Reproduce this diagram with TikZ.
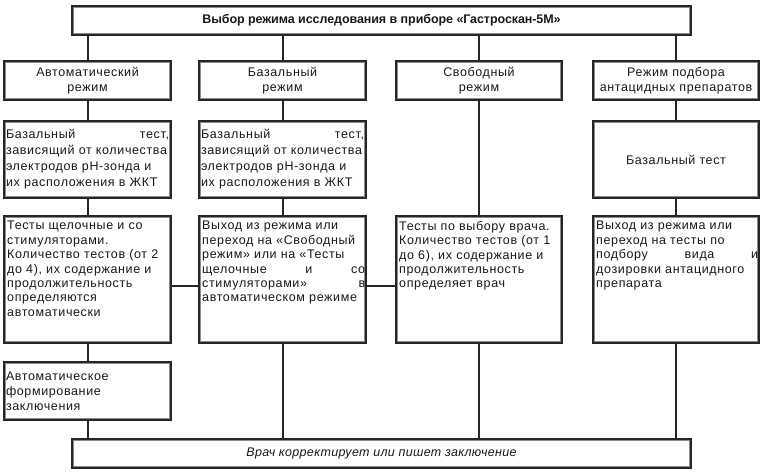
\documentclass[tikz,border=0pt]{standalone}
\usepackage{fontspec}
\setmainfont{Liberation Sans}[LetterSpace=5]
\newfontfamily\titlefont{Liberation Sans}[LetterSpace=-0.6]
\newfontfamily\botfont{Liberation Sans}[LetterSpace=2.5]
\newcommand\fsA{\fontsize{12.5}{15.5}\selectfont}
\newcommand\fsB{\fontsize{12.5}{16}\selectfont}
\newcommand\fsC{\fontsize{12.5}{14.4}\selectfont}
\newcommand\fsD{\fontsize{12.5}{15}\selectfont}
\begin{document}
\begin{tikzpicture}[x=1pt,y=-1pt,
  lw/.style={line width=2.2pt, draw=black!85},
  plain/.style={lw, fill=white, inner sep=0pt, align=center, text=black!90},
  dbl/.style={plain, path picture={\draw[black!45, line width=1pt] ([shift={(1.6pt,1.6pt)}]path picture bounding box.south west) rectangle ([shift={(-1.6pt,-1.6pt)}]path picture bounding box.north east);}},
  conn/.style={line width=2pt, draw=black!85},
  txt/.style={inner sep=0pt, anchor=north west, align=left, text width=163pt, font=\fsC, text=black!90},
  colA/.style={minimum width=166.8pt},
  colB/.style={minimum width=165.8pt}
]
\useasboundingbox[fill=white] (0,0) rectangle (765,475);

% top and bottom
\node[dbl, minimum width=618.8pt, minimum height=28.8pt, font=\titlefont\fsA\bfseries] (top) at (381.5,20.5) {Выбор режима исследования в приборе «Гастроскан-5М»};
\node[dbl, minimum width=618.8pt, minimum height=28.8pt, font=\botfont\fsA\itshape] (bot) at (381.5,453.5) {Врач корректирует или пишет заключение};

% row 1
\node[dbl, colA, minimum height=38.8pt, font=\fsA] (r11) at (87.5,80.5) {Автоматический\\режим};
\node[dbl, colA, minimum height=38.8pt, font=\fsA] (r12) at (282.5,80.5) {Базальный\\режим};
\node[dbl, colB, minimum height=38.8pt, font=\fsA] (r13) at (479,80.5) {Свободный\\режим};
\node[dbl, colB, minimum height=38.8pt, font=\fsA] (r14) at (676,80.5) {Режим подбора\\антацидных препаратов};

% row 2
\node[dbl, colA, minimum height=76.8pt, font=\fsB, text width=163pt, align=left] (r21) at (87.5,159.5) {Базальный\hfill тест,\\зависящий от количества\\электродов pH-зонда и\\их расположения в ЖКТ};
\node[dbl, colA, minimum height=76.8pt, font=\fsB, text width=163pt, align=left] (r22) at (282.5,159.5) {Базальный\hfill тест,\\зависящий от количества\\электродов pH-зонда и\\их расположения в ЖКТ};
\node[dbl, colB, minimum height=76.8pt, font=\fsB] (r24) at (676,159.5) {Базальный тест};

% row 3
\node[dbl, colA, minimum height=126.8pt] (r31) at (87.5,279.5) {};
\node[dbl, colA, minimum height=126.8pt] (r32) at (282.5,279.5) {};
\node[dbl, colB, minimum height=126.8pt] (r33) at (479,279.5) {};
\node[dbl, colB, minimum height=126.8pt] (r34) at (676,279.5) {};
\node[txt] (t31) at (7,221) {Тесты щелочные и со\\стимуляторами.\\Количество тестов (от 2\\до 4), их содержание и\\продолжительность\\определяются\\автоматически};
\node[txt] (t32) at (202,221) {Выход из режима или\\переход на «Свободный\\режим» или на «Тесты\\щелочные\hfill и\hfill со\\стимуляторами»\hfill в\\автоматическом режиме};
\node[txt] (t33) at (399,221) {Тесты по выбору врача.\\Количество тестов (от 1\\до 6), их содержание и\\продолжительность\\определяет врач};
\node[txt, text width=162pt] (t34) at (596,221) {Выход из режима или\\переход на тесты по\\подбору\hfill вида\hfill и\\дозировки антацидного\\препарата};

% row 4
\node[dbl, colA, minimum height=57.8pt, font=\fsD, text width=163pt, align=left] (r41) at (87.5,391) {Автоматическое\\формирование\\заключения};

% connectors
\foreach \c in {r11,r12,r13,r14}
  \draw[conn] (\c.north) -- (\c.north |- top.south);
\draw[conn] (r11) -- (r21);
\draw[conn] (r21) -- (r31);
\draw[conn] (r31) -- (r41);
\draw[conn] (r12) -- (r22);
\draw[conn] (r22) -- (r32);
\draw[conn] (r13) -- (r33);
\draw[conn] (r14) -- (r24);
\draw[conn] (r24) -- (r34);
\draw[conn] ([yshift=-6.5pt]r31.east) -- ([yshift=-6.5pt]r32.west);
\draw[conn] ([yshift=-6.5pt]r32.east) -- ([yshift=-6.5pt]r33.west);
\draw[conn] (r41.south) -- (r41.south |- bot.north);
\foreach \c in {r32,r33,r34}
  \draw[conn] (\c.south) -- (\c.south |- bot.north);
\end{tikzpicture}
\end{document}
